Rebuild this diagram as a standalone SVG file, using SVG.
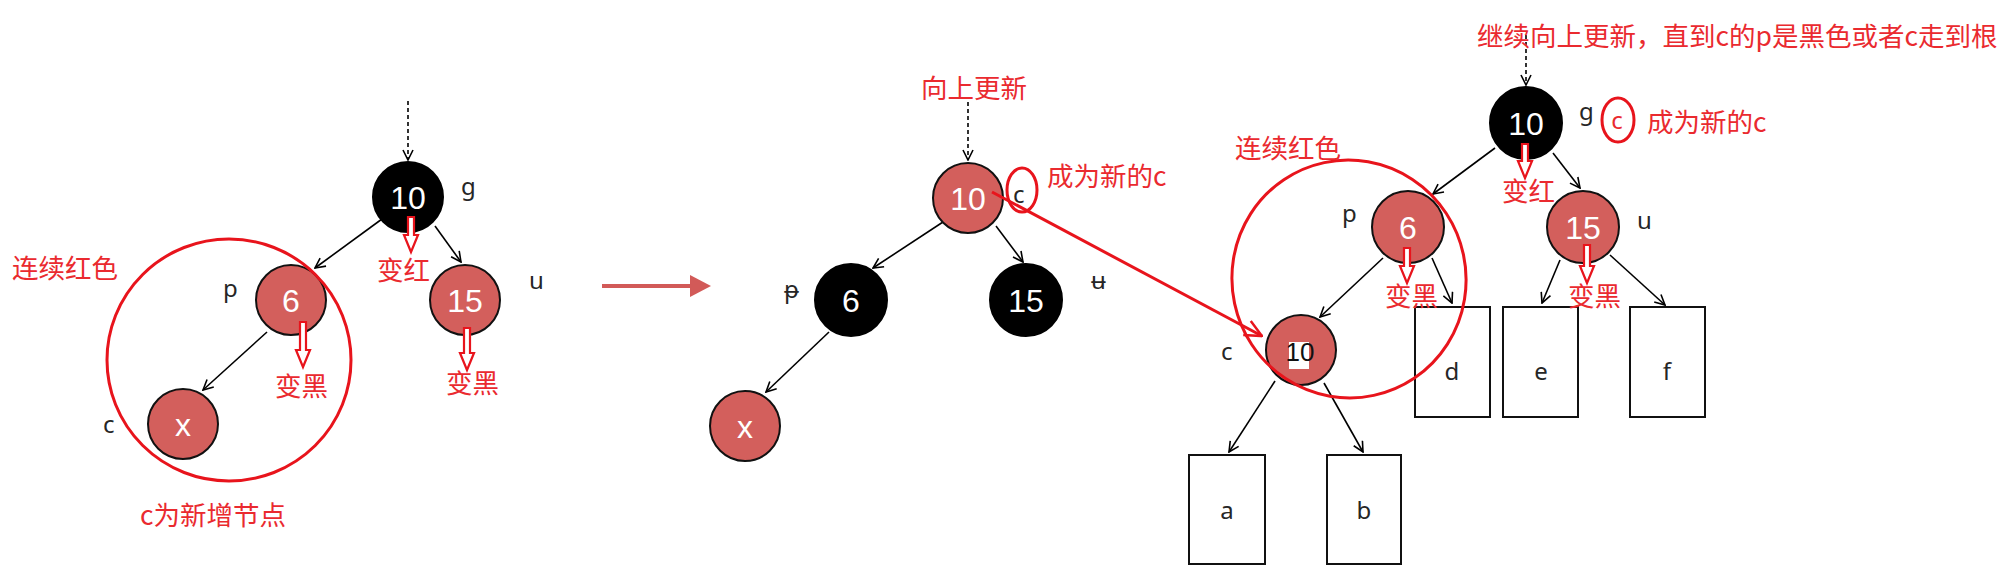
<svg xmlns="http://www.w3.org/2000/svg" xmlns:xlink="http://www.w3.org/1999/xlink" width="2013" height="571" viewBox="0 0 2013 571">
<style>
.bg{fill:#ffffff}
.nr{fill:#d35f5c;stroke:#111;stroke-width:2}
.nb{fill:#000;stroke:#000;stroke-width:2}
.nt{fill:#fff;font-family:"Liberation Sans",Arial,sans-serif;font-size:32px;text-anchor:middle}
.lb{fill:#262626;font-family:"Noto Sans","DejaVu Sans",sans-serif;font-size:24px}
.rt{fill:#ea2a2f;font-family:"Noto Sans CJK SC","Noto Sans",sans-serif;font-size:26.5px}
.edge{stroke:#000;stroke-width:1.6;fill:none;marker-end:url(#ah)}
.dot{stroke:#000;stroke-width:1.6;fill:none;stroke-dasharray:4 3;marker-end:url(#ah)}
.ring{fill:none;stroke:#e8141c;stroke-width:3}
.hollow{fill:#fff;stroke:#e8141c;stroke-width:2.2;stroke-linejoin:miter}
.box{fill:#fff;stroke:#111;stroke-width:2}
.bt{fill:#262626;font-family:"Noto Sans","DejaVu Sans",sans-serif;font-size:24px;text-anchor:middle}
</style>
<defs>
<marker id="ah" viewBox="0 0 12 12" refX="11" refY="6" markerWidth="12" markerHeight="12" markerUnits="userSpaceOnUse" orient="auto">
<path d="M1,1 L11,6 L1,11" fill="none" stroke="#000" stroke-width="1.6"/>
</marker>
<marker id="ahr" viewBox="0 0 20 20" refX="19" refY="10" markerWidth="20" markerHeight="20" markerUnits="userSpaceOnUse" orient="auto">
<path d="M2,2 L19,10 L2,18" fill="none" stroke="#e8141c" stroke-width="2.5"/>
</marker>
</defs>
<rect class="bg" x="0" y="0" width="2013" height="571"/>

<!-- boxes -->
<g id="box-a"><rect class="box" x="1189" y="455" width="76" height="109"/><text class="bt" x="1227" y="519">a</text></g>
<g id="box-b"><rect class="box" x="1327" y="455" width="74" height="109"/><text class="bt" x="1364" y="519">b</text></g>
<g id="box-d"><rect class="box" x="1415" y="307" width="75" height="110"/><text class="bt" x="1452" y="380">d</text></g>
<g id="box-e"><rect class="box" x="1503" y="307" width="75" height="110"/><text class="bt" x="1541" y="380">e</text></g>
<g id="box-f"><rect class="box" x="1630" y="307" width="75" height="110"/><text class="bt" x="1667" y="380">f</text></g>

<!-- connectors -->
<g id="connectors">
<line class="dot" x1="408" y1="101" x2="408" y2="160"/>
<line class="edge" x1="382" y1="219" x2="315" y2="268"/>
<line class="edge" x1="435" y1="226" x2="461" y2="262"/>
<line class="edge" x1="267" y1="332" x2="203" y2="390"/>

<line class="dot" x1="968" y1="102" x2="968" y2="160"/>
<line class="edge" x1="943" y1="222" x2="873" y2="268"/>
<line class="edge" x1="996" y1="226" x2="1023" y2="262"/>
<line class="edge" x1="829" y1="332" x2="766" y2="392"/>

<line class="dot" x1="1526" y1="35" x2="1526" y2="85"/>
<line class="edge" x1="1495" y1="148" x2="1433" y2="194"/>
<line class="edge" x1="1553" y1="153" x2="1580" y2="188"/>
<line class="edge" x1="1383" y1="258" x2="1320" y2="317"/>
<line class="edge" x1="1432" y1="258" x2="1452" y2="303"/>
<line class="edge" x1="1560" y1="260" x2="1542" y2="303"/>
<line class="edge" x1="1610" y1="255" x2="1665" y2="305"/>
<line class="edge" x1="1275" y1="381" x2="1229" y2="452"/>
<line class="edge" x1="1324" y1="383" x2="1363" y2="452"/>

<line x1="602" y1="286" x2="692" y2="286" stroke="#d25a58" stroke-width="4"/>
<path d="M690,275 L711,286 L690,297 Z" fill="#d25a58"/>
</g>

<!-- left tree nodes -->
<g id="L-g"><circle class="nb" cx="408" cy="197" r="35"/><text class="nt" x="408" y="209">10</text><text class="lb" x="461" y="195">g</text></g>
<g id="L-p"><circle class="nr" cx="291" cy="300" r="35"/><text class="nt" x="291" y="312">6</text><text class="lb" x="223" y="297">p</text></g>
<g id="L-u"><circle class="nr" cx="465" cy="300" r="35"/><text class="nt" x="465" y="312">15</text><text class="lb" x="529" y="289">u</text></g>
<g id="L-c"><circle class="nr" cx="183" cy="424" r="35"/><text class="nt" x="183" y="436">x</text><text class="lb" x="103" y="433">c</text></g>

<!-- middle tree nodes -->
<g id="M-10"><circle class="nr" cx="968" cy="198" r="35"/><text class="nt" x="968" y="210">10</text><text class="lb" x="1013" y="203">c</text></g>
<g id="M-6"><circle class="nb" cx="851" cy="300" r="36"/><text class="nt" x="851" y="312">6</text><text class="lb" x="784" y="298">ᵽ</text></g>
<g id="M-15"><circle class="nb" cx="1026" cy="300" r="36"/><text class="nt" x="1026" y="312">15</text><text class="lb" x="1091" y="289">ʉ</text></g>
<g id="M-x"><circle class="nr" cx="745" cy="426" r="35"/><text class="nt" x="745" y="438">x</text></g>

<!-- right tree nodes -->
<g id="R-g"><circle class="nb" cx="1526" cy="123" r="36"/><text class="nt" x="1526" y="135">10</text><text class="lb" x="1579" y="120">g</text></g>
<g id="R-p"><circle class="nr" cx="1408" cy="227" r="36"/><text class="nt" x="1408" y="239">6</text><text class="lb" x="1342" y="222">p</text></g>
<g id="R-u"><circle class="nr" cx="1583" cy="227" r="36"/><text class="nt" x="1583" y="239">15</text><text class="lb" x="1637" y="229">u</text></g>
<g id="R-c"><circle class="nr" cx="1301" cy="350" r="35"/><rect x="1289" y="342" width="20" height="27" fill="#fff"/><text x="1300" y="361" fill="#111" font-family="Liberation Sans, Arial, sans-serif" font-size="26" text-anchor="middle">10</text><text class="lb" x="1221" y="360">c</text></g>

<!-- hollow red arrows -->
<g id="recolor-arrows">
<path class="hollow" d="M408,217 H414 V235 H418 L411,252 L404,235 H408 Z"/>
<path class="hollow" d="M300,322 H306 V350 H310 L303,367 L296,350 H300 Z"/>
<path class="hollow" d="M464,328 H470 V353 H474 L467,370 L460,353 H464 Z"/>
<path class="hollow" d="M1522,144 H1528 V161 H1532 L1525,178 L1518,161 H1522 Z"/>
<path class="hollow" d="M1404,248 H1410 V266 H1414 L1407,283 L1400,266 H1404 Z"/>
<path class="hollow" d="M1584,245 H1590 V266 H1594 L1587,283 L1580,266 H1584 Z"/>
</g>

<!-- red annotations -->
<g id="annotations">
<ellipse class="ring" cx="229" cy="360" rx="122" ry="121"/>
<ellipse class="ring" cx="1349" cy="279" rx="117" ry="119" transform="rotate(-12 1349 279)"/>
<ellipse class="ring" cx="1022" cy="190" rx="15" ry="22" stroke-width="2.5"/>
<ellipse class="ring" cx="1618" cy="120" rx="16" ry="22" stroke-width="2.5"/>
<text x="1617" y="129" fill="#ea2a2f" font-family="Noto Sans, sans-serif" font-size="24" text-anchor="middle">c</text>
<line x1="992" y1="192" x2="1262" y2="336" stroke="#e8141c" stroke-width="3" marker-end="url(#ahr)"/>

<text class="rt" x="12" y="278">连续红色</text>
<text class="rt" x="377" y="280">变红</text>
<text class="rt" x="275" y="396">变黑</text>
<text class="rt" x="446" y="393">变黑</text>
<text class="rt" x="140" y="525">c为新增节点</text>
<text class="rt" x="921" y="98">向上更新</text>
<text class="rt" x="1047" y="186">成为新的c</text>
<text class="rt" x="1235" y="158">连续红色</text>
<text class="rt" x="1477" y="46" font-size="27.5">继续向上更新，直到c的p是黑色或者c走到根</text>
<text class="rt" x="1647" y="132">成为新的c</text>
<text class="rt" x="1502" y="201">变红</text>
<text class="rt" x="1385" y="306">变黑</text>
<text class="rt" x="1568" y="306">变黑</text>
</g>
</svg>
